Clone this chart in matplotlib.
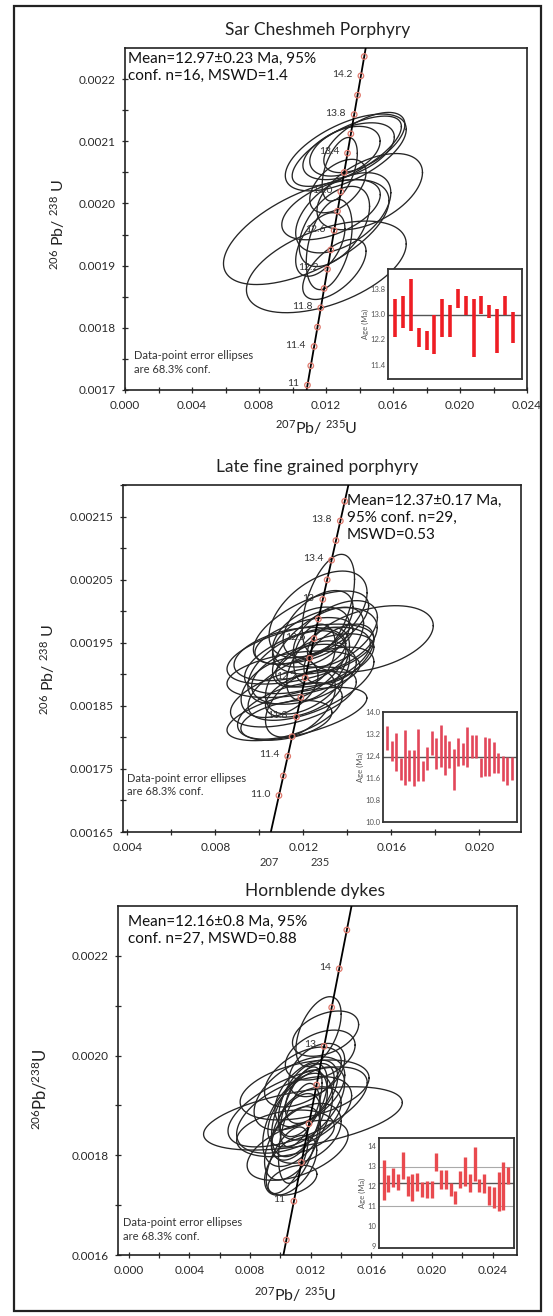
import numpy as np
import matplotlib
matplotlib.use('Agg')
import matplotlib.pyplot as plt
from matplotlib.patches import Rectangle
from matplotlib.ticker import FormatStrFormatter, FixedLocator

plt.rcParams['font.family'] = ['Lato', 'DejaVu Sans']
plt.rcParams['mathtext.fontset'] = 'custom'
plt.rcParams['mathtext.rm'] = 'Lato'
plt.rcParams['mathtext.it'] = 'Lato:italic'
plt.rcParams['mathtext.bf'] = 'Lato:bold'

# decay constants (1/yr) used for the concordia reference curve
LAMBDA_238 = 1.55125e-10
LAMBDA_235 = 9.8485e-10

# ---------------- Panel 1: Sar Cheshmeh Porphyry ----------------
p1_title = "Sar Cheshmeh Porphyry"
p1_text = "Mean=12.97\u00b10.23 Ma, 95%\nconf. n=16, MSWD=1.4"
p1_ell_x = [0.01082, 0.01202, 0.01461, 0.01318, 0.01324, 0.01335, 0.01313, 0.01429,
            0.01282, 0.01303, 0.01250, 0.01219, 0.01250, 0.01166, 0.01230, 0.01271]
p1_ell_y = [0.001954, 0.001898, 0.002019, 0.002082, 0.002084, 0.002084, 0.002084, 0.002098,
            0.002055, 0.001985, 0.001963, 0.001934, 0.001894, 0.001934, 0.001990, 0.002028]
p1_ell_sx = [0.00494, 0.00477, 0.00315, 0.00361, 0.00326, 0.00273, 0.00210, 0.00242,
             0.00105, 0.00284, 0.00210, 0.00137, 0.00189, 0.00147, 0.00294, 0.00168]
p1_ell_sy = [0.0000844, 0.0000737, 0.0000613, 0.0000618, 0.0000565, 0.0000457, 0.0000400, 0.0000484,
             0.0000511, 0.0000645, 0.0000645, 0.0000726, 0.0000484, 0.0000511, 0.0000484, 0.0000430]
p1_ell_rho = [0.6, 0.5, 0.5, 0.6, 0.7, 0.5, 0.4, 0.6, 0.5, 0.5, 0.5, 0.4, 0.6, 0.5, 0.5, 0.5]
p1_marker_ages = [11.0, 11.2, 11.4, 11.6, 11.8, 12.0, 12.2, 12.4, 12.6, 12.8, 13.0, 13.2,
                  13.4, 13.6, 13.8, 14.0, 14.2, 14.4]
p1_label_ages = [11.0, 11.4, 11.8, 12.2, 12.6, 13.0, 13.4, 13.8, 14.2]
p1_label_txt = ["11", "11.4", "11.8", "12.2", "12.6", "13.0", "13.4", "13.8", "14.2"]
p1_bar_hi = [13.47, 13.57, 14.09, 12.57, 12.45, 12.97, 13.47, 13.28,
             13.78, 13.57, 13.47, 13.57, 13.28, 13.16, 13.57, 13.07]
p1_bar_lo = [12.26, 12.57, 12.47, 11.96, 11.86, 11.75, 12.26, 12.26,
             13.18, 12.97, 11.65, 12.99, 12.87, 11.77, 12.97, 12.07]
p1_mean = 12.97
p1_inset_ticks = [11.4, 12.2, 13.0, 13.8]

# ---------------- Panel 2: Late fine grained porphyry ----------------
p2_title = "Late fine grained porphyry"
p2_text = "Mean=12.37\u00b10.17 Ma,\n95% conf. n=29,\nMSWD=0.53"
p2_ell_x = [0.01314, 0.01267, 0.01235, 0.01505, 0.01187, 0.01219, 0.01267, 0.01203, 0.01155, 0.01139,
            0.01171, 0.01187, 0.01092, 0.01267, 0.01235, 0.01346, 0.01298, 0.01219, 0.01139, 0.01267,
            0.01362, 0.01123, 0.01203, 0.01235, 0.01171, 0.01298, 0.01251, 0.01203, 0.01155]
p2_ell_y = [0.002011, 0.001995, 0.001974, 0.001956, 0.001932, 0.001922, 0.001943, 0.001900, 0.001864, 0.001842,
            0.001837, 0.001853, 0.001879, 0.001916, 0.001959, 0.001964, 0.001922, 0.001895, 0.001932, 0.001980,
            0.001932, 0.001827, 0.001869, 0.001885, 0.001911, 0.001953, 0.001932, 0.001953, 0.001900]
p2_ell_sx = [0.00119, 0.00223, 0.00262, 0.00286, 0.00334, 0.00286, 0.00207, 0.00238, 0.00286, 0.00238,
             0.00318, 0.00159, 0.00175, 0.00143, 0.00175, 0.00191, 0.00223, 0.00191, 0.00254, 0.00159,
             0.00159, 0.00207, 0.00175, 0.00286, 0.00223, 0.00238, 0.00095, 0.00223, 0.00302]
p2_ell_sy = [0.0000791, 0.0000686, 0.0000580, 0.0000527, 0.0000475, 0.0000527, 0.0000633, 0.0000475, 0.0000475, 0.0000448,
             0.0000422, 0.0000527, 0.0000475, 0.0000580, 0.0000475, 0.0000527, 0.0000422, 0.0000580, 0.0000422, 0.0000527,
             0.0000475, 0.0000316, 0.0000369, 0.0000580, 0.0000580, 0.0000527, 0.0000475, 0.0000369, 0.0000369]
p2_ell_rho = [0.5, 0.5, 0.6, 0.4, 0.5, 0.5, 0.6, 0.4, 0.5, 0.5, 0.6, 0.5, 0.4, 0.5, 0.4,
              0.5, 0.5, 0.5, 0.4, 0.5, 0.5, 0.4, 0.5, 0.6, 0.5, 0.4, 0.3, 0.5, 0.4]
p2_marker_ages = [11.0, 11.2, 11.4, 11.6, 11.8, 12.0, 12.2, 12.4, 12.6, 12.8, 13.0, 13.2,
                  13.4, 13.6, 13.8, 14.0]
p2_label_ages = [11.0, 11.4, 11.8, 12.2, 12.6, 13.0, 13.4, 13.8]
p2_label_txt = ["11.0", "11.4", "11.8", "12.2", "12.6", "13", "13.4", "13.8"]
p2_bar_hi = [13.48, 12.93, 13.24, 12.33, 13.36, 12.61, 12.61, 13.39, 12.21, 12.72,
             13.30, 13.05, 13.52, 13.18, 12.96, 12.65, 13.05, 12.87, 13.45, 13.18,
             13.18, 12.33, 13.08, 13.05, 12.91, 12.51, 12.39, 12.35, 12.35]
p2_bar_lo = [12.63, 12.21, 11.84, 11.54, 11.36, 11.48, 11.30, 11.48, 11.48, 11.90,
             12.42, 11.94, 11.99, 11.72, 11.96, 11.18, 12.02, 12.08, 11.99, 12.33,
             12.33, 11.62, 11.66, 11.66, 11.78, 11.78, 11.50, 11.36, 11.54]
p2_mean = 12.37
p2_inset_ticks = [10.0, 10.8, 11.6, 12.4, 13.2, 14.0]

# ---------------- Panel 3: Hornblende dykes ----------------
p3_title = "Hornblende dykes"
p3_text = "Mean=12.16\u00b10.8 Ma, 95%\nconf. n=27, MSWD=0.88"
p3_ell_x = [0.01252, 0.01298, 0.01263, 0.01149, 0.01091, 0.01160, 0.01171, 0.01149, 0.01137,
            0.01126, 0.01114, 0.01171, 0.01194, 0.01103, 0.01080, 0.01068, 0.01114, 0.01045,
            0.01149, 0.01126, 0.01194, 0.01034, 0.01171, 0.01126, 0.01080, 0.01240, 0.01114]
p3_ell_y = [0.002048, 0.002044, 0.002001, 0.001874, 0.001881, 0.001931, 0.001924, 0.001911, 0.001897,
            0.001884, 0.001871, 0.001897, 0.001924, 0.001857, 0.001824, 0.001780, 0.001810, 0.001790,
            0.001957, 0.001924, 0.001884, 0.001844, 0.001844, 0.001844, 0.001750, 0.001971, 0.001897]
p3_ell_sx = [0.00149, 0.00218, 0.00230, 0.00655, 0.00379, 0.00425, 0.00207, 0.00161, 0.00138,
             0.00184, 0.00230, 0.00253, 0.00161, 0.00161, 0.00184, 0.00172, 0.00333, 0.00138,
             0.00253, 0.00299, 0.00207, 0.00322, 0.00230, 0.00138, 0.00161, 0.00184, 0.00459]
p3_ell_sy = [0.0000701, 0.0000454, 0.0000501, 0.0000635, 0.0000768, 0.0000601, 0.0000668, 0.0000735, 0.0000802,
             0.0000868, 0.0000935, 0.0000802, 0.0000601, 0.0000668, 0.0000735, 0.0000601, 0.0000601, 0.0000668,
             0.0000601, 0.0000735, 0.0000534, 0.0000468, 0.0000601, 0.0001002, 0.0000301, 0.0000534, 0.0000802]
p3_ell_rho = [0.5, 0.4, 0.4, 0.5, 0.5, 0.4, 0.5, 0.5, 0.6, 0.5, 0.5, 0.6, 0.5, 0.5,
              0.5, 0.5, 0.5, 0.6, 0.5, 0.5, 0.4, 0.3, 0.4, 0.5, 0.4, 0.4, 0.6]
p3_marker_ages = [10.5, 11.0, 11.5, 12.0, 12.5, 13.0, 13.5, 14.0, 14.5]
p3_label_ages = [11.0, 13.0, 14.0]
p3_label_txt = ["11", "13", "14"]
p3_bar_hi = [13.31, 12.55, 12.93, 12.60, 13.70, 12.51, 12.60, 12.68, 12.23, 12.27,
             12.27, 13.67, 12.81, 12.81, 12.18, 11.76, 12.76, 13.47, 12.60, 13.97,
             12.35, 12.60, 11.99, 11.94, 12.73, 13.22, 12.98]
p3_bar_lo = [11.33, 11.72, 11.94, 11.82, 12.35, 11.52, 11.24, 11.77, 11.44, 11.41,
             11.41, 12.76, 11.85, 11.85, 11.49, 11.10, 11.89, 12.02, 11.72, 12.27,
             11.69, 11.66, 11.08, 10.91, 10.75, 10.83, 12.10]
p3_mean = 12.16
p3_guides = [12.96, 11.0]
p3_inset_ticks = [9, 10, 11, 12, 13, 14]

# ---------------------------------------------------------------
W, H = 553, 1316
fig = plt.figure(figsize=(W / 100, H / 100), dpi=100)

TXT = '#2a2a2a'


def box(l, t, r, b):
    return [l / W, 1 - b / H, (r - l) / W, (b - t) / H]


def concordia(ages):
    t = np.asarray(ages, dtype=float) * 1e6
    return np.expm1(LAMBDA_235 * t), np.expm1(LAMBDA_238 * t)


def main_axes(rect, xlim, ylim, xmaj, xmin, ymaj, ymin, xfmt, yfmt):
    ax = fig.add_axes(box(*rect))
    ax.set_xlim(*xlim)
    ax.set_ylim(*ylim)
    ax.xaxis.set_major_locator(FixedLocator(xmaj))
    ax.xaxis.set_minor_locator(FixedLocator(xmin))
    ax.yaxis.set_major_locator(FixedLocator(ymaj))
    ax.yaxis.set_minor_locator(FixedLocator(ymin))
    ax.xaxis.set_major_formatter(FormatStrFormatter(xfmt))
    ax.yaxis.set_major_formatter(FormatStrFormatter(yfmt))
    ax.tick_params(which='both', direction='inout', length=4, width=0.9,
                   colors=TXT, labelsize=8.5, pad=5)
    for s in ax.spines.values():
        s.set_linewidth(1.2)
        s.set_color('#222222')
    return ax


def draw_ellipses(ax, ex, ey, sx, sy, rho):
    t = np.linspace(0, 2 * np.pi, 240)
    for x0, y0, a, b, r in zip(ex, ey, sx, sy, rho):
        x = x0 + a * np.cos(t)
        y = y0 + b * (r * np.cos(t) + np.sqrt(1 - r * r) * np.sin(t))
        ax.plot(x, y, color='#262626', lw=0.95, zorder=2)


def draw_concordia(ax, marker_ages, label_ages, label_txt, lsize=7.5):
    cx, cy = concordia(np.linspace(9.0, 16.5, 200))
    ax.plot(cx, cy, color='black', lw=1.3, zorder=3)
    mx, my = concordia(marker_ages)
    ax.scatter(mx, my, s=16, facecolors='none', edgecolors='#e07a6e', linewidths=0.9, zorder=4)
    lx, ly = concordia(label_ages)
    for x, y, s in zip(lx, ly, label_txt):
        ax.annotate(s, (x, y), xytext=(-6, 1), textcoords='offset points',
                    ha='right', va='center', fontsize=lsize, color='#333333', zorder=5)


def inset(rect, n, hi, lo, ylim, ticks, fmt, color, lw, mean, guides=()):
    ax = fig.add_axes(box(*rect))
    ax.set_xlim(0.05, n + 1.2)
    ax.set_ylim(*ylim)
    ax.set_xticks([])
    ax.set_yticks(ticks)
    ax.yaxis.set_major_formatter(FormatStrFormatter(fmt))
    ax.tick_params(axis='y', length=0, labelsize=5.5, colors='#555555', pad=2)
    for s in ax.spines.values():
        s.set_linewidth(1.3)
        s.set_color('#333333')
    for g in guides:
        ax.axhline(g, color='#aaaaaa', lw=0.8, zorder=1)
    ax.axhline(mean, color='#555555', lw=1.0, zorder=1)
    xs = np.arange(1, n + 1)
    ax.vlines(xs, lo, hi, colors=color, lw=lw, zorder=2)
    ax.set_ylabel('Age (Ma)', fontsize=5.5, color='#555555', labelpad=1)
    return ax


# ---- Panel 1 ----
ax1 = main_axes((125, 48, 527, 390), (0.0, 0.024), (0.0017, 0.00225),
                np.arange(0, 0.0241, 0.004), np.arange(0.002, 0.024, 0.004),
                np.arange(0.0017, 0.00221, 0.0001), np.arange(0.00175, 0.00225, 0.0001),
                '%.3f', '%.4f')
draw_ellipses(ax1, p1_ell_x, p1_ell_y, p1_ell_sx, p1_ell_sy, p1_ell_rho)
draw_concordia(ax1, p1_marker_ages, p1_label_ages, p1_label_txt)
ax1.text(0.008, 0.99, p1_text, transform=ax1.transAxes, ha='left', va='top',
         fontsize=11, color='#111111', linespacing=1.3)
ax1.text(0.022, 0.045, "Data-point error ellipses\nare 68.3% conf.", transform=ax1.transAxes,
         ha='left', va='bottom', fontsize=8, color='#333333', linespacing=1.3)
fig.text(318 / W, 1 - 30 / H, p1_title, ha='center', va='center', fontsize=12.5, color='#222222')
fig.text(316 / W, 1 - 428 / H, r'$^{207}$Pb/ $^{235}$U', ha='center', va='center',
         fontsize=11.5, color='#222222')
fig.text(58 / W, 1 - 225 / H, r'$^{206}$ Pb/ $^{238}$ U', ha='center', va='center',
         rotation=90, fontsize=11.5, color='#222222')
inset((388, 269, 522, 379), len(p1_bar_hi), p1_bar_hi, p1_bar_lo, (10.95, 14.42),
      p1_inset_ticks, '%.1f', '#ee1d24', 2.6, p1_mean)

# ---- Panel 2 ----
ax2 = main_axes((123, 485, 521, 832), (0.0038, 0.0219), (0.00165, 0.0022),
                np.arange(0.004, 0.0201, 0.004), np.arange(0.006, 0.022, 0.004),
                np.arange(0.00165, 0.00216, 0.0001), np.arange(0.0017, 0.0022, 0.0001),
                '%.3f', '%.5f')
draw_ellipses(ax2, p2_ell_x, p2_ell_y, p2_ell_sx, p2_ell_sy, p2_ell_rho)
draw_concordia(ax2, p2_marker_ages, p2_label_ages, p2_label_txt)
ax2.text(0.563, 0.975, p2_text, transform=ax2.transAxes, ha='left', va='top',
         fontsize=11, color='#111111', linespacing=1.3)
ax2.text(0.01, 0.10, "Data-point error ellipses\nare 68.3% conf.", transform=ax2.transAxes,
         ha='left', va='bottom', fontsize=8, color='#333333', linespacing=1.3)
fig.text(317 / W, 1 - 467 / H, p2_title, ha='center', va='center', fontsize=12.5, color='#222222')
fig.text(269 / W, 1 - 863 / H, '207', ha='center', va='center', fontsize=8, color='#333333')
fig.text(320 / W, 1 - 863 / H, '235', ha='center', va='center', fontsize=8, color='#333333')
fig.text(48 / W, 1 - 670 / H, r'$^{206}$ Pb/ $^{238}$ U', ha='center', va='center',
         rotation=90, fontsize=11.5, color='#222222')
inset((383, 712, 517, 822), len(p2_bar_hi), p2_bar_hi, p2_bar_lo, (10.0, 14.0),
      p2_inset_ticks, '%.1f', '#e2475a', 1.9, p2_mean)

# ---- Panel 3 ----
ax3 = main_axes((118, 906, 517, 1255), (-0.0007, 0.0256), (0.0016, 0.0023),
                np.arange(0, 0.0241, 0.004), np.arange(0.002, 0.026, 0.004),
                np.arange(0.0016, 0.00221, 0.0002), np.arange(0.0017, 0.0023, 0.0002),
                '%.3f', '%.4f')
draw_ellipses(ax3, p3_ell_x, p3_ell_y, p3_ell_sx, p3_ell_sy, p3_ell_rho)
draw_concordia(ax3, p3_marker_ages, p3_label_ages, p3_label_txt)
ax3.text(0.025, 0.974, p3_text, transform=ax3.transAxes, ha='left', va='top',
         fontsize=11, color='#111111', linespacing=1.3)
ax3.text(0.013, 0.037, "Data-point error ellipses\nare 68.3% conf.", transform=ax3.transAxes,
         ha='left', va='bottom', fontsize=8, color='#333333', linespacing=1.3)
fig.text(315 / W, 1 - 891 / H, p3_title, ha='center', va='center', fontsize=12.5, color='#222222')
fig.text(295 / W, 1 - 1295 / H, r'$^{207}$Pb/ $^{235}$U', ha='center', va='center',
         fontsize=11.5, color='#222222')
fig.text(40 / W, 1 - 1089 / H, r'$^{206}$Pb/$^{238}$U', ha='center', va='center',
         rotation=90, fontsize=12, color='#222222')
inset((379, 1138, 514, 1248), len(p3_bar_hi), p3_bar_hi, p3_bar_lo, (8.9, 14.42),
      p3_inset_ticks, '%d', '#e94a4f', 2.4, p3_mean, guides=p3_guides)

# outer frame
fig.add_artist(Rectangle((14 / W, 1 - 1311 / H), (541 - 14) / W, (1311 - 6) / H,
                         transform=fig.transFigure, fill=False, lw=1.6, ec='#222222'))

fig.savefig('out.png', dpi=100)
